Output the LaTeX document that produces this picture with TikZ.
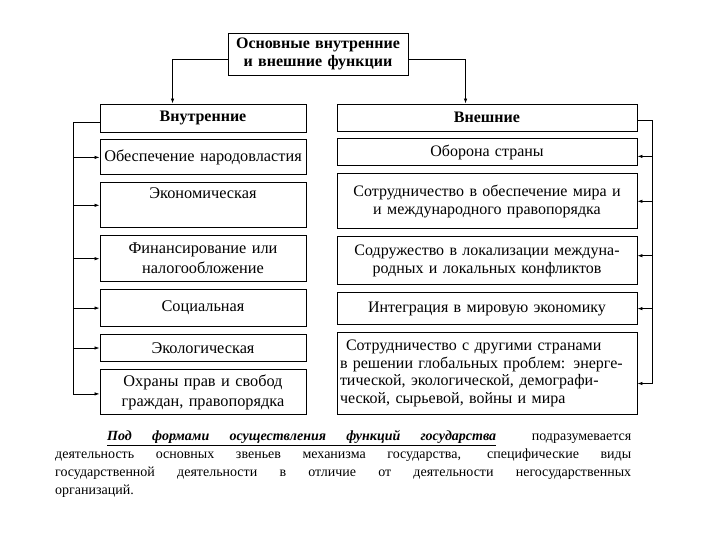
\documentclass[tikz,border=0pt]{standalone}
\usepackage{fontspec}
\setmainfont{Liberation Serif}
\usetikzlibrary{positioning,arrows.meta}

\begin{document}
\begin{tikzpicture}[
    x=1pt, y=-1pt,
    node distance=7pt,
    box/.style={rectangle, draw, line width=0.9pt, inner xsep=3pt, inner ysep=2pt, align=center},
    lbox/.style={box, text width=200pt, font=\fontsize{16.3}{20}\selectfont},
    rbox/.style={box, text width=294pt, font=\fontsize{16}{17.5}\selectfont},
    head/.style={font=\fontsize{16}{18}\selectfont\bfseries},
    arrow/.style={-{Latex[length=5pt,width=3.5pt]}, line width=0.8pt}
]
    \useasboundingbox (0,0) rectangle (720,540);

    \node (main) [box, head, text width=174pt, minimum height=42pt] at (318,54) {Основные внутренние\\и внешние функции};
    \node (inner) [lbox, head, minimum height=28pt] at (203,118) {Внутренние};
    \node (outer) [rbox, head, minimum height=27pt] at (487,117.5) {Внешние};

    % внутренние функции
    \node (people) [lbox, below=of inner, minimum height=35pt] {Обеспечение народовластия};
    \node (econ) [lbox, below=of people, minimum height=45pt] {Экономическая\\[4pt]\mbox{}};
    \node (finance) [lbox, below=of econ, minimum height=46pt] {Финансирование или\\налогообложение};
    \node (social) [lbox, below=of finance, minimum height=37pt] {Социальная};
    \node (ecology) [lbox, below=of social, minimum height=27pt] {Экологическая};
    \node (rights) [lbox, below=of ecology, minimum height=45pt] {Охраны прав и свобод\\граждан, правопорядка};

    % внешние функции
    \node (defence) [rbox, below=of outer, minimum height=27pt] {Оборона страны};
    \node (peace) [rbox, below=of defence, minimum height=55pt] {Сотрудничество в обеспечение мира и\\и международного правопорядка};
    \node (conflict) [rbox, below=of peace, minimum height=48pt] {Содружество в локализации междуна-\\родных и локальных конфликтов};
    \node (economy) [rbox, below=of conflict, minimum height=32pt] {Интеграция в мировую экономику};
    \node (global) [rbox, below=of economy, minimum height=82pt, align=left] {\hspace*{6pt}Сотрудничество с другими странами\\в решении глобальных проблем: энерге-\\тической, экологической, демографи-\\ческой, сырьевой, войны и мира};

    \draw [arrow] ([yshift=-5pt]main.west) -| ([xshift=73pt]inner.north west);
    \draw [arrow] ([yshift=-5pt]main.east) -| ([xshift=129pt]outer.north west);

    \coordinate (lbus) at (73,122);
    \coordinate (rbus) at (652,120);
    \coordinate (defin) at ([yshift=-4pt]defence.east);
    \coordinate (confin) at ([yshift=5pt]conflict.east);

    \draw [arrow] (inner.west |- lbus) -- (lbus) |- ([yshift=-2pt]rights.west);
    \draw [arrow] (lbus |- people.west) -- (people.west);
    \draw [arrow] (lbus |- econ.west) -- (econ.west);
    \draw [arrow] (lbus |- finance.west) -- (finance.west);
    \draw [arrow] (lbus |- social.west) -- (social.west);
    \draw [arrow] (lbus |- ecology.west) -- (ecology.west);

    \draw [arrow] (outer.east |- rbus) -- (rbus) |- ([yshift=-10pt]global.east);
    \draw [arrow] (rbus |- defin) -- (defin);
    \draw [arrow] (rbus |- peace.east) -- (peace.east);
    \draw [arrow] (rbus |- confin) -- (confin);
    \draw [arrow] (rbus |- economy.east) -- (economy.east);

    \node (note) [anchor=north west, inner sep=0pt, font=\fontsize{14}{18}\selectfont] at (55,430) {\parbox{576pt}{%
        \noindent\hbox to \linewidth{\hspace*{52pt}\underline{\makebox[389pt][s]{\bfseries\itshape Под формами осуществления функций государства}}\hfill подразумевается}\par
        \noindent деятельность основных звеньев механизма государства, специфические виды\linebreak
        государственной деятельности в отличие от деятельности негосударственных\linebreak
        организаций.}};
\end{tikzpicture}
\end{document}
